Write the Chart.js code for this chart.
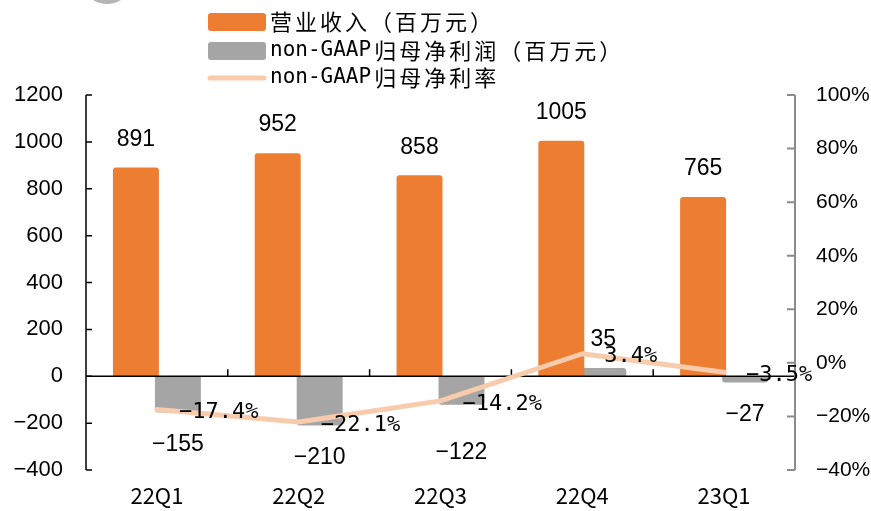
<!DOCTYPE html>
<html>
<head>
<meta charset="utf-8">
<script src="https://cdn.jsdelivr.net/npm/chart.js@4.4.1/dist/chart.umd.min.js"></script>
<style>
  html, body { margin: 0; padding: 0; background: #fff; }
  #wrap { width: 871px; height: 511px; }
</style>
</head>
<body>
<div id="wrap"><canvas id="revChart"></canvas></div>
<script>
const quarters = ['22Q1', '22Q2', '22Q3', '22Q4', '23Q1'];
const revenue = [891, 952, 858, 1005, 765];               // 营业收入（百万元）
const nonGaapProfit = [-155, -210, -122, 35, -27];         // non-GAAP归母净利润（百万元）
const nonGaapMargin = [-17.4, -22.1, -14.2, 3.4, -3.5];    // non-GAAP归母净利率, %
const amountAxis = [-400, 1200, 200];                      // min, max, step
const marginAxis = [-40, 100, 20];

const numFont = '"Liberation Sans", Arial, sans-serif';
const monoFont = '"DejaVu Sans Mono", monospace';
const cjkFont = '"Noto Sans CJK SC", sans-serif';

const ORANGE = '#ED7D31';
const GREY = '#A5A5A5';
const PEACH = '#F8CBAD';

function minus(s) {
    return String(s).replace('-', '\u2212');
}

// draws latin text in the mono face and CJK glyphs on a fixed pitch
function drawMixed(ctx, text, x, y) {
    let prevLatin = false;
    for (const ch of text) {
        if (ch.charCodeAt(0) < 0x2000) {
            ctx.font = '21px ' + monoFont;
            ctx.fillText(ch, x, y);
            x += ctx.measureText(ch).width;
            prevLatin = true;
        } else {
            if (prevLatin) x += 3;
            ctx.font = '22px ' + cjkFont;
            ctx.fillText(ch, x, y);
            x += 25;
            prevLatin = false;
        }
    }
}

const axesPlugin = {
    id: 'axesLines',
    beforeDatasetDraw(chart, args) {
        if (args.index !== 2) return;   // just under the margin line
        const { ctx, chartArea: a, scales } = chart;
        const y = scales.y, y1 = scales.y1, x = scales.x;
        ctx.save();
        // left axis
        ctx.strokeStyle = '#000';
        ctx.lineWidth = 1.5;
        ctx.beginPath();
        ctx.moveTo(a.left, a.top);
        ctx.lineTo(a.left, a.bottom);
        y.ticks.forEach(t => {
            const py = y.getPixelForValue(t.value);
            ctx.moveTo(a.left, py);
            ctx.lineTo(a.left + 6, py);
        });
        ctx.stroke();
        // zero line with category ticks
        const zy = y.getPixelForValue(0);
        ctx.beginPath();
        ctx.moveTo(a.left, zy);
        ctx.lineTo(a.right, zy);
        for (let i = 0; i < quarters.length - 1; i++) {
            const bx = (x.getPixelForTick(i) + x.getPixelForTick(i + 1)) / 2;
            ctx.moveTo(bx, zy);
            ctx.lineTo(bx, zy - 7);
        }
        ctx.stroke();
        // right axis
        ctx.strokeStyle = '#8C8C8C';
        ctx.lineWidth = 2;
        ctx.beginPath();
        ctx.moveTo(a.right, a.top);
        ctx.lineTo(a.right, a.bottom);
        y1.ticks.forEach(t => {
            const py = y1.getPixelForValue(t.value);
            ctx.moveTo(a.right, py);
            ctx.lineTo(a.right - 8, py);
        });
        ctx.stroke();
        ctx.restore();
    }
};

const labelPlugin = {
    id: 'valueLabels',
    afterDatasetsDraw(chart, args, opts) {
        const ctx = chart.ctx;
        ctx.save();
        ctx.fillStyle = '#000';
        ctx.textBaseline = 'middle';

        // bar values
        ctx.font = '23px ' + numFont;
        ctx.textAlign = 'center';
        [0, 1].forEach(di => {
            const ds = chart.data.datasets[di];
            chart.getDatasetMeta(di).data.forEach((bar, i) => {
                const v = ds.data[i];
                const nudge = (opts.nudge[di] || [])[i] || 0;
                const ly = v >= 0 ? bar.y - 28 : bar.y + 32 + nudge;
                ctx.fillText(minus(v), bar.x, ly);
            });
        });

        // margin values, right of each point
        ctx.font = '22px ' + monoFont;
        ctx.textAlign = 'left';
        const ds = chart.data.datasets[2];
        chart.getDatasetMeta(2).data.forEach((pt, i) => {
            ctx.fillText(minus(ds.data[i].toFixed(1)) + '%', pt.x + 22, pt.y + 3);
        });
        ctx.restore();
    },
    afterDraw(chart) {
        const ctx = chart.ctx;
        ctx.save();
        // logo remnant at the top edge
        ctx.strokeStyle = '#B5B5B5';
        ctx.lineWidth = 4;
        ctx.beginPath();
        ctx.arc(107, -22, 24, 0, Math.PI);
        ctx.stroke();

        // legend
        const rows = [22, 51, 78];
        const lx = 208, lw = 58;
        ctx.textBaseline = 'middle';
        ctx.textAlign = 'left';
        chart.data.datasets.forEach((ds, i) => {
            const ry = rows[i];
            if (ds.type === 'line') {
                ctx.strokeStyle = ds.borderColor;
                ctx.lineWidth = 5;
                ctx.lineCap = 'round';
                ctx.beginPath();
                ctx.moveTo(lx + 2, ry);
                ctx.lineTo(lx + lw - 2, ry);
                ctx.stroke();
            } else {
                ctx.fillStyle = ds.backgroundColor;
                ctx.beginPath();
                ctx.roundRect(lx, ry - 9, lw, 18, 3);
                ctx.fill();
            }
            ctx.fillStyle = '#000';
            drawMixed(ctx, ds.label, lx + 62, ry);
        });
        ctx.restore();
    }
};

const ctx = document.getElementById('revChart').getContext('2d');
new Chart(ctx, {
    data: {
        labels: quarters,
        datasets: [
            {
                type: 'bar',
                label: '营业收入（百万元）',
                data: revenue,
                backgroundColor: ORANGE,
                borderRadius: 3,
                yAxisID: 'y',
                order: 1
            },
            {
                type: 'bar',
                label: 'non-GAAP归母净利润（百万元）',
                data: nonGaapProfit,
                backgroundColor: GREY,
                borderRadius: 3,
                yAxisID: 'y',
                order: 2
            },
            {
                type: 'line',
                label: 'non-GAAP归母净利率',
                data: nonGaapMargin,
                borderColor: PEACH,
                borderWidth: 5,
                borderCapStyle: 'round',
                borderJoinStyle: 'round',
                pointRadius: 0,
                tension: 0,
                yAxisID: 'y1',
                order: 0
            }
        ]
    },
    options: {
        responsive: true,
        maintainAspectRatio: false,
        animation: false,
        devicePixelRatio: 1,
        layout: { padding: { top: 95, left: 0, right: 0, bottom: 0 } },
        datasets: {
            bar: { categoryPercentage: 0.592, barPercentage: 1.095 }
        },
        plugins: {
            legend: { display: false },
            tooltip: { enabled: false },
            valueLabels: { nudge: { 1: [0, 0, 16, 0, 0] } }
        },
        scales: {
            x: {
                offset: true,
                grid: { display: false },
                border: { display: false },
                ticks: { color: '#000', font: { family: cjkFont, size: 22 }, padding: 4 },
                afterFit: s => { s.height = 41; }
            },
            y: {
                position: 'left',
                min: amountAxis[0],
                max: amountAxis[1],
                grid: { display: false, drawTicks: false },
                border: { display: false },
                ticks: {
                    stepSize: amountAxis[2],
                    color: '#000',
                    font: { family: numFont, size: 22 },
                    padding: 23,
                    callback: v => minus(v)
                },
                afterFit: s => { s.width = 86; }
            },
            y1: {
                position: 'right',
                min: marginAxis[0],
                max: marginAxis[1],
                grid: { display: false, drawTicks: false },
                border: { display: false },
                ticks: {
                    stepSize: marginAxis[2],
                    color: '#000',
                    font: { family: numFont, size: 21 },
                    padding: 21,
                    callback: v => minus(v) + '%'
                },
                afterFit: s => { s.width = 76; }
            }
        }
    },
    plugins: [axesPlugin, labelPlugin]
});
</script>
</body>
</html>
